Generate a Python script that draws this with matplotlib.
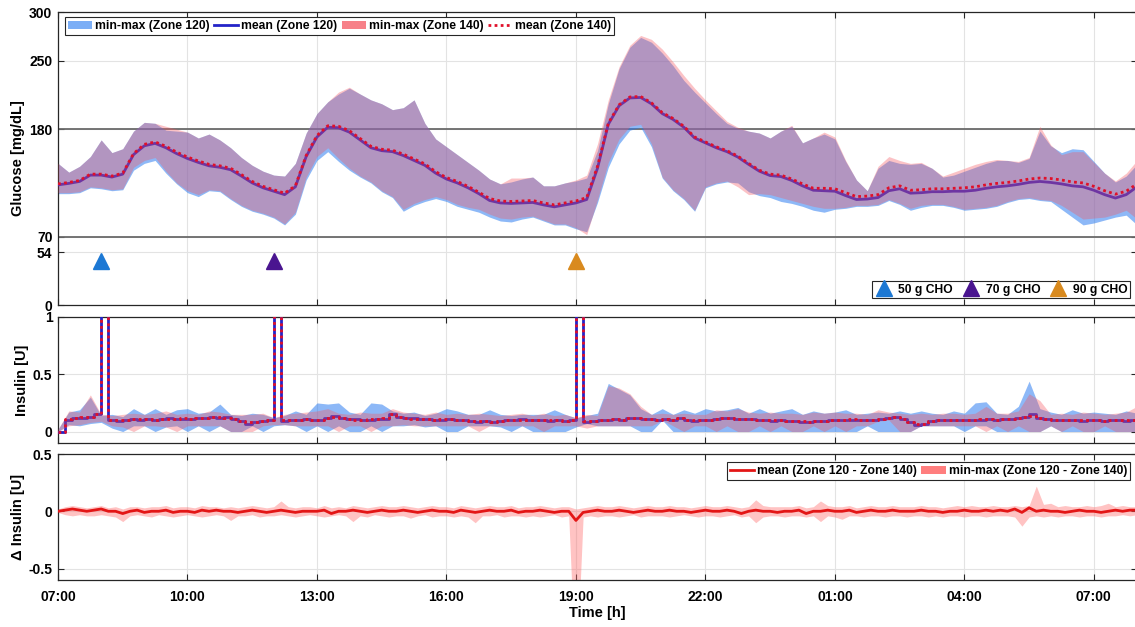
import numpy as np
import matplotlib
matplotlib.use("Agg")
import matplotlib.pyplot as plt
from matplotlib.patches import Patch
from matplotlib.lines import Line2D

plt.rcParams['font.family'] = ['Liberation Sans', 'DejaVu Sans']
plt.rcParams['font.weight'] = 'bold'

# ---------------- data ----------------
# glucose, 15-min grid from 07:00 (h=0) to 08:00 next day (h=25)
glu_mean_120 = [
    123, 124.5, 126.5, 133,
    133, 131, 134, 154,
    163, 165.5, 161, 155,
    150, 146, 142.5, 141,
    138.5, 132, 125, 120,
    116.5, 113, 121, 152,
    172, 182, 181.5, 177,
    169, 161, 158, 157,
    153, 148, 143, 135,
    129, 125, 120, 114,
    107, 104.5, 104, 104.5,
    105, 102.5, 100.5, 102.5,
    104.5, 108, 140, 185,
    204, 212, 212.5, 206,
    196, 190, 182, 171,
    166, 161, 157, 151.5,
    144, 137, 132.5, 131.5,
    127.5, 122, 117.5, 117,
    116.5, 112, 108, 108.5,
    110, 117, 119, 114.5,
    115, 116, 116, 116.5,
    116.5, 117.5, 119.5, 121,
    122, 123.5, 125.5, 126.5,
    125.5, 124, 122, 121,
    117.5, 113, 109.5, 113,
    121]
glu_mean_140 = [
    124, 125.5, 127.5, 134,
    134, 132, 135, 155,
    164.5, 167, 162.5, 156.5,
    151.5, 147.5, 144, 142.5,
    140, 133.5, 126.5, 121.5,
    118, 114.5, 122, 153,
    173.5, 183.5, 183, 178.5,
    170.5, 162.5, 159.5, 158.5,
    154.5, 149.5, 144.5, 136.5,
    130.5, 126.5, 121.5, 115.5,
    109, 106.5, 106, 106.5,
    107, 104.5, 102.5, 104.5,
    106.5, 110, 142, 186,
    205, 213, 213.5, 207,
    197, 191, 183, 172,
    167, 162, 158, 152.5,
    145, 138, 134, 133,
    129, 124, 119.5, 119.5,
    119, 115, 111, 111.5,
    113, 120, 122, 117.5,
    118, 119, 119, 119.5,
    120, 121, 123, 124.5,
    125.5, 127, 129, 130,
    129.5, 128, 126, 125,
    121.5, 117, 113.5, 116.5,
    124]
glu_max_120 = [
    145, 136, 142, 152,
    169, 156, 160, 178,
    187, 186, 179, 178,
    177, 171, 175, 169,
    161, 151, 143, 137,
    133, 132, 145, 176,
    196, 208, 216, 222,
    216, 210, 206, 200,
    202, 210, 186, 170,
    162, 154, 146, 138,
    129, 124, 126, 129,
    131, 122, 122, 125,
    127, 130, 158, 206,
    242, 264, 274, 269,
    258, 245, 230, 218,
    207, 196, 186, 181,
    178, 176, 171, 178,
    183, 166, 171, 175,
    170, 147, 128, 117,
    140, 148, 145, 144,
    145, 140, 131, 133,
    137, 141, 145, 148,
    148, 146, 150, 178,
    163, 156, 160, 159,
    147, 135, 126, 132,
    144]
glu_min_120 = [
    114, 114, 115, 120,
    119, 117, 118, 138,
    145, 148, 135, 124,
    115, 111, 117, 116,
    108, 101, 96, 93,
    89, 82, 93, 128,
    148, 157, 147, 138,
    131, 125, 116, 110,
    96, 102, 106, 109,
    106, 101, 98, 95,
    90, 86, 85, 88,
    90, 86, 82, 82,
    78, 75, 105, 141,
    165, 179, 182, 162,
    130, 117, 108, 96,
    120, 124, 126, 125,
    116, 112, 110, 106,
    104, 101, 97, 95,
    98, 99, 101, 101,
    102, 107, 103, 97,
    100, 102, 102, 100,
    97, 98, 99, 101,
    105, 108, 109, 107,
    106, 98, 90, 82,
    84, 87, 90, 92,
    82]
glu_max_140 = [
    145, 136, 142, 152,
    169, 156, 160, 178,
    187, 186, 183, 180,
    177, 171, 175, 169,
    161, 151, 143, 137,
    133, 132, 145, 176,
    196, 208, 218, 223,
    216, 210, 206, 200,
    202, 210, 186, 170,
    162, 154, 146, 138,
    129, 124, 130, 130,
    131, 122, 122, 125,
    128, 133, 165, 210,
    244, 266, 276, 272,
    262, 249, 235, 222,
    210, 199, 188, 182,
    178, 176, 171, 178,
    184, 166, 171, 177,
    172, 148, 128, 117,
    142, 152, 148, 145,
    146, 140, 132, 136,
    140, 144, 147, 149,
    148, 147, 151, 183,
    164, 154, 157, 157,
    146, 135, 127, 135,
    148]
glu_min_140 = [
    115, 115, 116, 121,
    120, 118, 119, 141,
    148, 151, 137, 125,
    117, 113, 118, 117,
    109, 102, 97, 94,
    90, 83, 95, 131,
    152, 161, 150, 140,
    132, 126, 117, 111,
    98, 104, 108, 111,
    108, 103, 100, 98,
    93, 89, 88, 90,
    91, 87, 83, 83,
    79, 72, 108, 146,
    170, 183, 185, 165,
    131, 118, 109, 97,
    121, 125, 127, 121,
    113, 114, 113, 110,
    107, 104, 101, 99,
    99, 100, 102, 102,
    103, 108, 104, 99,
    102, 103, 103, 101,
    98, 99, 100, 102,
    106, 109, 110, 108,
    107, 102, 95, 88,
    89, 90, 93, 97,
    88]

# meals (hours after 07:00)
meal_h = [1.0, 5.0, 12.0]
meal_level = [45, 45, 45]
meal_labels = ['50 g CHO', '70 g CHO', '90 g CHO']
meal_colors = ['#1c78d4', '#4a1590', '#d98a1e']

# insulin mean, 10-min grid (boluses go off-scale)
ins_mean_120 = [
    0.00, 0.10, 0.12, 0.12, 0.13, 0.15,
    6.00, 0.10, 0.09, 0.10, 0.11, 0.10,
    0.11, 0.10, 0.11, 0.12, 0.11, 0.11,
    0.11, 0.12, 0.12, 0.13, 0.12, 0.13,
    0.11, 0.09, 0.07, 0.08, 0.09, 0.10,
    6.00, 0.09, 0.10, 0.10, 0.11, 0.10,
    0.10, 0.12, 0.14, 0.12, 0.11, 0.11,
    0.10, 0.10, 0.11, 0.11, 0.15, 0.13,
    0.12, 0.12, 0.11, 0.11, 0.10, 0.10,
    0.11, 0.10, 0.10, 0.09, 0.08, 0.09,
    0.08, 0.09, 0.10, 0.10, 0.11, 0.10,
    0.10, 0.10, 0.09, 0.10, 0.09, 0.10,
    6.00, 0.08, 0.09, 0.10, 0.10, 0.11,
    0.10, 0.12, 0.12, 0.11, 0.11, 0.10,
    0.11, 0.10, 0.12, 0.10, 0.09, 0.10,
    0.10, 0.11, 0.12, 0.12, 0.11, 0.11,
    0.11, 0.10, 0.10, 0.09, 0.10, 0.09,
    0.09, 0.08, 0.08, 0.09, 0.09, 0.10,
    0.10, 0.10, 0.10, 0.10, 0.10, 0.10,
    0.11, 0.12, 0.13, 0.11, 0.08, 0.06,
    0.07, 0.09, 0.10, 0.10, 0.10, 0.10,
    0.10, 0.10, 0.10, 0.11, 0.10, 0.11,
    0.11, 0.12, 0.13, 0.15, 0.12, 0.11,
    0.10, 0.10, 0.10, 0.10, 0.09, 0.10,
    0.10, 0.09, 0.10, 0.10, 0.09, 0.10,
    0.10]
ins_mean_140 = [
    0.00, 0.11, 0.12, 0.13, 0.13, 0.15,
    6.00, 0.10, 0.10, 0.10, 0.11, 0.11,
    0.11, 0.10, 0.11, 0.11, 0.11, 0.12,
    0.11, 0.12, 0.12, 0.13, 0.13, 0.12,
    0.11, 0.09, 0.08, 0.08, 0.09, 0.10,
    6.00, 0.10, 0.10, 0.10, 0.11, 0.10,
    0.10, 0.12, 0.13, 0.12, 0.11, 0.10,
    0.10, 0.11, 0.11, 0.12, 0.15, 0.13,
    0.12, 0.11, 0.11, 0.11, 0.10, 0.11,
    0.11, 0.10, 0.10, 0.09, 0.09, 0.09,
    0.08, 0.09, 0.10, 0.10, 0.10, 0.10,
    0.10, 0.10, 0.10, 0.10, 0.09, 0.10,
    6.00, 0.09, 0.09, 0.10, 0.10, 0.11,
    0.10, 0.12, 0.12, 0.11, 0.11, 0.10,
    0.11, 0.10, 0.12, 0.10, 0.10, 0.10,
    0.10, 0.11, 0.12, 0.12, 0.11, 0.11,
    0.11, 0.10, 0.10, 0.10, 0.10, 0.09,
    0.09, 0.09, 0.08, 0.09, 0.09, 0.10,
    0.10, 0.10, 0.11, 0.10, 0.10, 0.10,
    0.11, 0.12, 0.13, 0.11, 0.08, 0.07,
    0.07, 0.09, 0.10, 0.10, 0.10, 0.10,
    0.10, 0.10, 0.11, 0.11, 0.10, 0.11,
    0.11, 0.12, 0.13, 0.14, 0.12, 0.11,
    0.10, 0.10, 0.10, 0.10, 0.10, 0.10,
    0.10, 0.09, 0.10, 0.10, 0.10, 0.10,
    0.10]

# insulin min-max, 15-min grid
ins_max_120 = [
    0.02, 0.17, 0.19, 0.30,
    0.14, 0.15, 0.13, 0.20,
    0.15, 0.20, 0.15, 0.19,
    0.20, 0.16, 0.17, 0.24,
    0.15, 0.14, 0.16, 0.15,
    0.12, 0.14, 0.18, 0.15,
    0.25, 0.24, 0.25, 0.17,
    0.15, 0.25, 0.24, 0.18,
    0.16, 0.17, 0.14, 0.16,
    0.20, 0.18, 0.15, 0.15,
    0.19, 0.15, 0.14, 0.15,
    0.15, 0.15, 0.19, 0.15,
    0.12, 0.14, 0.16, 0.42,
    0.37, 0.32, 0.20, 0.15,
    0.20, 0.15, 0.19, 0.16,
    0.20, 0.18, 0.19, 0.21,
    0.16, 0.20, 0.16, 0.18,
    0.20, 0.15, 0.18, 0.16,
    0.17, 0.19, 0.15, 0.16,
    0.17, 0.16, 0.18, 0.16,
    0.18, 0.16, 0.15, 0.18,
    0.16, 0.25, 0.26, 0.16,
    0.15, 0.22, 0.44, 0.20,
    0.17, 0.15, 0.19, 0.16,
    0.17, 0.16, 0.15, 0.18,
    0.16]
ins_min_120 = [
    0.00, 0.06, 0.05, 0.07,
    0.08, 0.03, 0.00, 0.05,
    0.05, 0.00, 0.04, 0.05,
    0.00, 0.05, 0.00, 0.05,
    0.00, 0.00, 0.05, 0.00,
    0.05, 0.06, 0.05, 0.00,
    0.05, 0.00, 0.05, 0.00,
    0.00, 0.05, 0.00, 0.05,
    0.05, 0.06, 0.04, 0.05,
    0.00, 0.00, 0.05, 0.05,
    0.05, 0.04, 0.00, 0.05,
    0.00, 0.00, 0.00, 0.00,
    0.04, 0.07, 0.05, 0.05,
    0.05, 0.05, 0.00, 0.00,
    0.10, 0.00, 0.00, 0.00,
    0.00, 0.00, 0.00, 0.00,
    0.00, 0.00, 0.00, 0.00,
    0.00, 0.00, 0.00, 0.00,
    0.00, 0.00, 0.00, 0.05,
    0.00, 0.00, 0.00, 0.00,
    0.05, 0.05, 0.05, 0.05,
    0.00, 0.05, 0.05, 0.00,
    0.00, 0.00, 0.00, 0.00,
    0.05, 0.00, 0.00, 0.00,
    0.00, 0.00, 0.00, 0.00,
    0.00]
ins_max_140 = [
    0.02, 0.18, 0.17, 0.32,
    0.15, 0.14, 0.15, 0.16,
    0.15, 0.16, 0.18, 0.15,
    0.16, 0.15, 0.18, 0.17,
    0.15, 0.15, 0.15, 0.16,
    0.12, 0.15, 0.16, 0.17,
    0.18, 0.20, 0.16, 0.15,
    0.17, 0.16, 0.16, 0.20,
    0.17, 0.16, 0.15, 0.17,
    0.15, 0.16, 0.15, 0.16,
    0.15, 0.14, 0.15, 0.16,
    0.14, 0.16, 0.14, 0.15,
    0.12, 0.15, 0.14, 0.40,
    0.38, 0.33, 0.22, 0.15,
    0.16, 0.15, 0.16, 0.15,
    0.15, 0.19, 0.18, 0.20,
    0.17, 0.16, 0.17, 0.16,
    0.16, 0.15, 0.17, 0.16,
    0.17, 0.16, 0.16, 0.15,
    0.19, 0.17, 0.16, 0.15,
    0.16, 0.15, 0.16, 0.16,
    0.15, 0.16, 0.22, 0.16,
    0.16, 0.18, 0.33, 0.27,
    0.15, 0.16, 0.15, 0.17,
    0.16, 0.15, 0.16, 0.17,
    0.22]
ins_min_140 = [
    0.00, 0.05, 0.06, 0.08,
    0.09, 0.05, 0.04, 0.00,
    0.05, 0.05, 0.04, 0.00,
    0.05, 0.05, 0.05, 0.05,
    0.00, 0.00, 0.00, 0.05,
    0.06, 0.06, 0.05, 0.05,
    0.05, 0.05, 0.00, 0.05,
    0.05, 0.00, 0.05, 0.05,
    0.06, 0.05, 0.05, 0.05,
    0.05, 0.05, 0.05, 0.00,
    0.05, 0.05, 0.05, 0.05,
    0.05, 0.00, 0.05, 0.05,
    0.05, 0.03, 0.05, 0.05,
    0.05, 0.05, 0.05, 0.05,
    0.10, 0.05, 0.00, 0.05,
    0.05, 0.00, 0.05, 0.00,
    0.00, 0.05, 0.00, 0.05,
    0.00, 0.00, 0.05, 0.00,
    0.05, 0.00, 0.05, 0.05,
    0.09, 0.10, 0.00, 0.00,
    0.05, 0.05, 0.05, 0.05,
    0.05, 0.05, 0.00, 0.05,
    0.00, 0.05, 0.00, 0.00,
    0.05, 0.00, 0.05, 0.00,
    0.00, 0.05, 0.00, 0.00,
    0.00]

# delta insulin (Zone 120 - Zone 140), 10-min grid
d_mean = [
    0.00, 0.01, 0.02, 0.01, 0.00, 0.01,
    0.02, 0.00, 0.00, -0.02, 0.00, 0.01,
    -0.01, 0.00, 0.00, 0.01, -0.01, 0.00,
    0.00, -0.01, 0.01, 0.00, 0.01, 0.00,
    0.00, -0.01, 0.00, 0.01, 0.00, -0.01,
    0.00, 0.01, 0.00, -0.01, 0.00, 0.00,
    0.00, 0.01, -0.02, 0.00, 0.00, 0.01,
    0.00, -0.01, 0.00, 0.01, 0.00, 0.00,
    0.01, 0.00, -0.01, 0.00, 0.01, 0.00,
    0.00, -0.01, 0.01, 0.00, -0.01, 0.00,
    0.01, 0.00, 0.00, 0.01, -0.01, 0.00,
    0.00, 0.01, 0.00, -0.01, 0.00, 0.00,
    -0.08, -0.01, 0.00, 0.01, 0.00, 0.00,
    0.01, 0.00, -0.01, 0.00, 0.01, 0.00,
    0.00, 0.01, 0.00, 0.00, -0.01, 0.00,
    0.01, 0.00, 0.00, 0.01, 0.00, -0.02,
    0.00, 0.01, 0.00, 0.00, -0.01, 0.00,
    0.00, 0.01, -0.02, 0.00, 0.00, 0.01,
    0.00, 0.00, 0.01, -0.01, 0.00, 0.01,
    0.00, 0.00, 0.01, 0.00, 0.00, 0.00,
    0.01, 0.00, 0.00, -0.01, 0.00, 0.00,
    0.01, 0.00, 0.00, 0.01, 0.00, 0.01,
    0.00, 0.02, -0.01, 0.03, 0.00, 0.01,
    0.00, 0.00, -0.01, 0.00, 0.01, 0.00,
    0.00, -0.01, 0.00, 0.01, 0.00, 0.01,
    0.01]
d_max = [
    0.02, 0.04, 0.05, 0.04, 0.03, 0.04,
    0.05, 0.03, 0.04, 0.02, 0.04, 0.04,
    0.03, 0.04, 0.04, 0.05, 0.03, 0.04,
    0.04, 0.03, 0.05, 0.04, 0.04, 0.03,
    0.04, 0.03, 0.04, 0.05, 0.04, 0.03,
    0.04, 0.09, 0.04, 0.03, 0.04, 0.04,
    0.03, 0.05, 0.03, 0.04, 0.03, 0.05,
    0.04, 0.03, 0.04, 0.05, 0.04, 0.04,
    0.05, 0.04, 0.03, 0.04, 0.05, 0.04,
    0.04, 0.03, 0.05, 0.04, 0.03, 0.04,
    0.05, 0.04, 0.04, 0.05, 0.03, 0.04,
    0.04, 0.05, 0.04, 0.03, 0.04, 0.04,
    0.02, 0.03, 0.04, 0.05, 0.04, 0.04,
    0.05, 0.04, 0.03, 0.04, 0.05, 0.04,
    0.04, 0.05, 0.04, 0.04, 0.03, 0.04,
    0.05, 0.04, 0.04, 0.05, 0.04, 0.03,
    0.04, 0.10, 0.05, 0.04, 0.04, 0.04,
    0.04, 0.05, 0.03, 0.04, 0.09, 0.05,
    0.04, 0.04, 0.05, 0.03, 0.04, 0.05,
    0.04, 0.04, 0.05, 0.04, 0.04, 0.04,
    0.05, 0.04, 0.04, 0.03, 0.04, 0.05,
    0.04, 0.05, 0.04, 0.04, 0.05, 0.04,
    0.04, 0.05, 0.04, 0.05, 0.22, 0.06,
    0.07, 0.04, 0.05, 0.04, 0.04, 0.05,
    0.04, 0.05, 0.07, 0.04, 0.05, 0.04,
    0.04]
d_min = [
    -0.01, -0.03, -0.04, -0.03, -0.04, -0.04,
    -0.03, -0.04, -0.05, -0.09, -0.04, -0.03,
    -0.04, -0.05, -0.03, -0.04, -0.05, -0.04,
    -0.03, -0.04, -0.05, -0.04, -0.03, -0.04,
    -0.08, -0.04, -0.04, -0.03, -0.05, -0.04,
    -0.04, -0.03, -0.04, -0.05, -0.04, -0.03,
    -0.04, -0.05, -0.04, -0.03, -0.04, -0.09,
    -0.04, -0.05, -0.03, -0.04, -0.05, -0.04,
    -0.04, -0.06, -0.04, -0.03, -0.05, -0.04,
    -0.04, -0.05, -0.04, -0.05, -0.10, -0.04,
    -0.04, -0.03, -0.05, -0.04, -0.04, -0.05,
    -0.04, -0.05, -0.04, -0.03, -0.05, -0.04,
    -1.50, -0.05, -0.04, -0.05, -0.04, -0.04,
    -0.05, -0.04, -0.03, -0.05, -0.04, -0.04,
    -0.04, -0.05, -0.04, -0.03, -0.04, -0.05,
    -0.04, -0.04, -0.05, -0.04, -0.03, -0.05,
    -0.04, -0.10, -0.05, -0.04, -0.04, -0.05,
    -0.04, -0.04, -0.05, -0.04, -0.09, -0.04,
    -0.05, -0.07, -0.04, -0.04, -0.05, -0.04,
    -0.04, -0.05, -0.04, -0.04, -0.05, -0.04,
    -0.04, -0.05, -0.04, -0.05, -0.04, -0.04,
    -0.05, -0.04, -0.04, -0.05, -0.04, -0.04,
    -0.04, -0.05, -0.13, -0.05, -0.04, -0.05,
    -0.04, -0.05, -0.04, -0.04, -0.05, -0.04,
    -0.04, -0.05, -0.04, -0.04, -0.03, -0.04,
    -0.03]

tick_hours = [0, 3, 6, 9, 12, 15, 18, 21, 24]
tick_labels = ['07:00', '10:00', '13:00', '16:00', '19:00', '22:00', '01:00', '04:00', '07:00']

t15 = np.arange(101) * 0.25
t10 = np.arange(151) / 6.0
for arr in (glu_mean_120, glu_mean_140, glu_max_120, glu_min_120, glu_max_140, glu_min_140,
            ins_max_120, ins_min_120, ins_max_140, ins_min_140):
    assert len(arr) == 101, len(arr)
for arr in (ins_mean_120, ins_mean_140, d_mean, d_max, d_min):
    assert len(arr) == 151, len(arr)

# ---------------- styling ----------------
BLUE_FILL = (0.14, 0.47, 0.94)
BLUE_A = 0.52
RED_FILL = (0.96, 0.34, 0.38)
RED_A = 0.36
BLUE_LINE = '#2323c8'
RED_LINE = '#e0102a'
SPINE = '#262626'
GRID = '#e3e3e3'
LEG_FS = 8.7

W, H = 1135, 627
fig = plt.figure(figsize=(W / 100, H / 100), dpi=100)
left = 58 / W
width = 1079 / W
ax1 = fig.add_axes([left, 1 - 305 / H, width, 293 / H])
ax2 = fig.add_axes([left, 1 - 443 / H, width, 126 / H])
ax3 = fig.add_axes([left, 1 - 580 / H, width, 126 / H])

for ax in (ax1, ax2, ax3):
    ax.set_xlim(0, 25)
    ax.set_xticks(tick_hours)
    ax.grid(True, color=GRID, lw=0.8, zorder=0)
    ax.set_axisbelow(True)
    for s in ax.spines.values():
        s.set_color(SPINE)
        s.set_linewidth(0.9)
    ax.tick_params(direction='in', length=4, width=0.8, color=SPINE,
                   top=True, right=True, labelsize=10, pad=4)
    ax.set_xticklabels([])

# ---- glucose panel ----
ax1.set_ylim(0, 300)
ax1.set_yticks([0, 54, 70, 180, 250, 300])
ax1.axhline(70, color='#6a6a6a', lw=1.3, zorder=1)
ax1.axhline(180, color='#6a6a6a', lw=1.3, zorder=1)
ax1.fill_between(t15, glu_min_120, glu_max_120, color=BLUE_FILL, alpha=BLUE_A, lw=0, zorder=2)
ax1.plot(t15, glu_mean_120, color=BLUE_LINE, lw=2, zorder=3)
ax1.fill_between(t15, glu_min_140, glu_max_140, color=RED_FILL, alpha=RED_A, lw=0, zorder=4)
ax1.plot(t15, glu_mean_140, color=RED_LINE, lw=2, ls=(0, (1, 1.2)), zorder=5)
ax1.set_ylabel('Glucose [mg/dL]', fontsize=10.5, fontweight='bold')
ax1.yaxis.set_label_coords(-33 / 1079, 0.5)

for h, lv, c in zip(meal_h, meal_level, meal_colors):
    ax1.plot([h], [lv], marker='^', ms=11, color=c, ls='none', zorder=6)

leg_handles = [Patch(facecolor=BLUE_FILL, alpha=0.6, edgecolor='none'),
               Line2D([], [], color=BLUE_LINE, lw=2),
               Patch(facecolor=RED_FILL, alpha=0.75, edgecolor='none'),
               Line2D([], [], color=RED_LINE, lw=2, ls=(0, (1, 1.2)))]
leg_labels = ['min-max (Zone 120)', 'mean (Zone 120)', 'min-max (Zone 140)', 'mean (Zone 140)']
lg1 = ax1.legend(leg_handles, leg_labels, ncol=4, loc='upper left',
                 bbox_to_anchor=(65 / W, 1 - 17 / H), bbox_transform=fig.transFigure,
                 fontsize=LEG_FS, frameon=True, fancybox=False, framealpha=1,
                 edgecolor=SPINE, borderpad=0.25, handlelength=2.0, handletextpad=0.25,
                 columnspacing=0.35, borderaxespad=0)
lg1.get_frame().set_linewidth(0.8)
ax1.add_artist(lg1)

meal_handles = [Line2D([], [], marker='^', ms=11, color=c, ls='none') for c in meal_colors]
lg2 = ax1.legend(meal_handles, meal_labels, ncol=3, loc='lower right',
                 bbox_to_anchor=(1130 / W, 1 - 298 / H), bbox_transform=fig.transFigure,
                 fontsize=LEG_FS, frameon=True, fancybox=False, framealpha=1,
                 edgecolor=SPINE, borderpad=0.2, handlelength=1.6, handletextpad=0.4,
                 columnspacing=0.7, borderaxespad=0)
lg2.get_frame().set_linewidth(0.8)

# ---- insulin panel ----
ax2.set_ylim(-0.1, 1)
ax2.set_yticks([0, 0.5, 1])
ax2.set_yticklabels(['0', '0.5', '1'])
ax2.fill_between(t15, ins_min_120, ins_max_120, color=BLUE_FILL, alpha=BLUE_A, lw=0, zorder=2)
ax2.plot(t10, ins_mean_120, color=BLUE_LINE, lw=2, drawstyle='steps-post', zorder=3)
ax2.fill_between(t15, ins_min_140, ins_max_140, color=RED_FILL, alpha=RED_A, lw=0, zorder=4)
ax2.plot(t10, ins_mean_140, color=RED_LINE, lw=2, ls=(0, (1, 1.2)), drawstyle='steps-post', zorder=5)
ax2.set_ylabel('Insulin [U]', fontsize=10.5, fontweight='bold')
ax2.yaxis.set_label_coords(-29 / 1079, 0.5)

# ---- delta insulin panel ----
ax3.set_ylim(-0.6, 0.5)
ax3.set_yticks([-0.5, 0, 0.5])
ax3.set_yticklabels(['-0.5', '0', '0.5'])
ax3.fill_between(t10, d_min, d_max, color='#ff7070', alpha=0.42, lw=0, zorder=2)
ax3.plot(t10, d_mean, color='#e31616', lw=2, zorder=3)
ax3.set_ylabel('\u0394 Insulin [U]', fontsize=10.5, fontweight='bold')
ax3.yaxis.set_label_coords(-33 / 1079, 0.5)
ax3.set_xticklabels(tick_labels)
ax3.tick_params(axis='x', pad=7)
ax3.set_xlabel('Time [h]', fontsize=10.5, fontweight='bold', labelpad=2)

d_handles = [Line2D([], [], color='#e31616', lw=2),
             Patch(facecolor='#ff7070', alpha=0.9, edgecolor='none')]
d_labels = ['mean (Zone 120 - Zone 140)', 'min-max (Zone 120 - Zone 140)']
lg3 = ax3.legend(d_handles, d_labels, ncol=2, loc='upper right',
                 bbox_to_anchor=(1130 / W, 1 - 462 / H), bbox_transform=fig.transFigure,
                 fontsize=LEG_FS, frameon=True, fancybox=False, framealpha=1,
                 edgecolor=SPINE, borderpad=0.25, handlelength=2.0, handletextpad=0.25,
                 columnspacing=0.35, borderaxespad=0)
lg3.get_frame().set_linewidth(0.8)

fig.savefig('out.png', dpi=100)
